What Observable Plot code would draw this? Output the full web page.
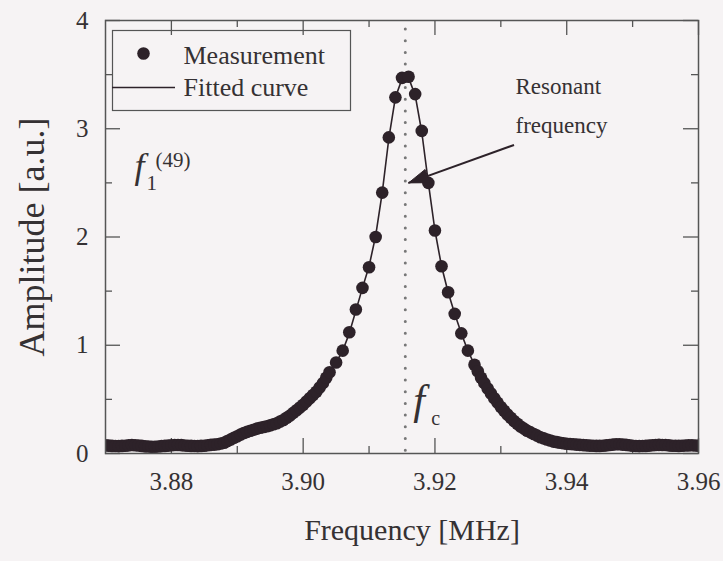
<!DOCTYPE html>
<html>
<head>
<meta charset="utf-8">
<script src="https://cdn.jsdelivr.net/npm/d3@7"></script>
<script src="https://cdn.jsdelivr.net/npm/@observablehq/plot@0.6"></script>
<style>
  html, body { margin: 0; padding: 0; background: #f6f3f4; }
  #chart svg { display: block; }
</style>
</head>
<body>
<div id="chart"></div>
<script>
// Measured amplitude [a.u.], swept in three segments:
// fine 0.5 kHz steps on the low side, 1 kHz steps across the peak, fine steps on the high side
const lowSideStart = 3.870, lowSideStep = 0.0005;
const lowSide = [
  0.075, 0.073, 0.070, 0.069, 0.068, 0.070, 0.072, 0.075, 0.078, 0.076,
  0.074, 0.070, 0.066, 0.064, 0.062, 0.063, 0.065, 0.068, 0.070, 0.073,
  0.076, 0.078, 0.079, 0.077, 0.074, 0.072, 0.070, 0.069, 0.068, 0.070,
  0.072, 0.076, 0.080, 0.082, 0.085, 0.092, 0.100, 0.115, 0.130, 0.145,
  0.160, 0.175, 0.190, 0.200, 0.210, 0.220, 0.230, 0.238, 0.245, 0.252,
  0.260, 0.270, 0.280, 0.295, 0.310, 0.330, 0.350, 0.375, 0.400, 0.425,
  0.450, 0.480, 0.510, 0.540, 0.570, 0.610, 0.650, 0.700, 0.750
];
const peakStart = 3.905, peakStep = 0.001;
const nearPeak = [
  0.84, 0.95, 1.12, 1.33, 1.53, 1.72, 2.00, 2.41, 2.92, 3.29,
  3.47, 3.48, 3.32, 2.98, 2.50, 2.06, 1.73, 1.49, 1.29, 1.11,
  0.95, 0.82
];
const highSideStart = 3.9265, highSideStep = 0.0005;
const highSide = [
  0.760, 0.700, 0.650, 0.600, 0.555, 0.510, 0.470, 0.430, 0.395, 0.360,
  0.330, 0.300, 0.275, 0.250, 0.230, 0.210, 0.195, 0.180, 0.165, 0.150,
  0.140, 0.130, 0.120, 0.110, 0.105, 0.100, 0.095, 0.090, 0.088, 0.085,
  0.082, 0.080, 0.077, 0.075, 0.073, 0.072, 0.070, 0.070, 0.072, 0.075,
  0.079, 0.082, 0.085, 0.085, 0.082, 0.080, 0.076, 0.072, 0.069, 0.068,
  0.069, 0.070, 0.073, 0.076, 0.079, 0.080, 0.079, 0.078, 0.075, 0.072,
  0.071, 0.070, 0.072, 0.074, 0.075, 0.076, 0.074, 0.072
];

// Fitted response [a.u.] on a 1 kHz grid from 3.870 MHz
const fitStart = 3.870, fitStep = 0.001;
const fitted = [
  0.070, 0.070, 0.070, 0.070, 0.070, 0.070, 0.070, 0.070, 0.070, 0.070,
  0.070, 0.070, 0.070, 0.070, 0.070, 0.072, 0.075, 0.080, 0.095, 0.120,
  0.150, 0.180, 0.205, 0.225, 0.240, 0.260, 0.280, 0.310, 0.350, 0.400,
  0.450, 0.510, 0.570, 0.650, 0.750, 0.840, 0.950, 1.110, 1.320, 1.530,
  1.730, 2.010, 2.410, 2.910, 3.290, 3.460, 3.470, 3.310, 2.970, 2.500,
  2.060, 1.730, 1.490, 1.290, 1.110, 0.950, 0.820, 0.700, 0.600, 0.510,
  0.430, 0.360, 0.300, 0.250, 0.210, 0.180, 0.150, 0.130, 0.110, 0.100,
  0.090, 0.085, 0.080, 0.078, 0.076, 0.075, 0.075, 0.075, 0.075, 0.075,
  0.075, 0.075, 0.075, 0.075, 0.075, 0.075, 0.075, 0.075, 0.075, 0.075,
  0.075
];

// Axis ranges and ticks
const xDomain = [3.870, 3.960];
const yDomain = [0, 4];
const xMajorTicks = [3.88, 3.90, 3.92, 3.94, 3.96];
const xMinorTicks = [3.89, 3.91, 3.93, 3.95];
const yMajorTicks = [0, 1, 2, 3, 4];
const yMinorTicks = [0.5, 1.5, 2.5, 3.5];

// Resonance marker and its annotation arrow (data units)
const resonantFreq = 3.9155;
const arrowFrom = {x: 3.932, y: 2.85};
const arrowTo = {x: 3.916, y: 2.5};

const segment = (start, step, values) =>
  values.map((a, i) => ({f: +(start + i * step).toFixed(4), a}));
const measurement = [
  ...segment(lowSideStart, lowSideStep, lowSide),
  ...segment(peakStart, peakStep, nearPeak),
  ...segment(highSideStart, highSideStep, highSide)
];
const fitCurve = segment(fitStart, fitStep, fitted);

// Layout
const W = 723, H = 561;
const mL = 105, mR = 25, mT = 20, mB = 108;
const ink = "#2d2229";
const axisInk = "#555";
const textInk = "#353133";
const serif = "'Liberation Serif', 'Times New Roman', serif";
const majorLen = 15, minorLen = 7;

// Filled arrowhead, built from the arrow end points
const kx = (W - mL - mR) / (xDomain[1] - xDomain[0]);
const ky = (H - mT - mB) / (yDomain[1] - yDomain[0]);
const vx = (arrowFrom.x - arrowTo.x) * kx, vy = -(arrowFrom.y - arrowTo.y) * ky;
const vl = Math.hypot(vx, vy), ux = vx / vl, uy = vy / vl;
const headLen = 20, headHalf = 7;
const toData = (px, py) => ({x: arrowTo.x + px / kx, y: arrowTo.y - py / ky});
const arrowHead = [
  toData(0, 0),
  toData(headLen * ux - headHalf * uy, headLen * uy + headHalf * ux),
  toData(headLen * ux + headHalf * uy, headLen * uy - headHalf * ux),
  toData(0, 0)
];

const ticksX = (values, len, side) =>
  Plot.ruleX(values, side === "bottom"
    ? {y1: yDomain[0], y2: yDomain[0], insetBottom: len, stroke: axisInk, strokeWidth: 1.3}
    : {y1: yDomain[1], y2: yDomain[1], insetTop: len, stroke: axisInk, strokeWidth: 1.3});
const ticksY = (values, len, side) =>
  Plot.ruleY(values, side === "left"
    ? {x1: xDomain[0], x2: xDomain[0], insetLeft: len, stroke: axisInk, strokeWidth: 1.3}
    : {x1: xDomain[1], x2: xDomain[1], insetRight: len, stroke: axisInk, strokeWidth: 1.3});

// free text placed relative to the top-left corner of the frame
const label = (s, dx, dy, opts = {}) =>
  Plot.text([s], {x: null, y: null, frameAnchor: "top-left", dx, dy,
    textAnchor: "start", lineAnchor: "middle", fill: textInk, ...opts});

const chart = Plot.plot({
  width: W,
  height: H,
  marginLeft: mL,
  marginRight: mR,
  marginTop: mT,
  marginBottom: mB,
  style: {background: "#f6f3f4", fontFamily: serif, color: textInk},
  x: {domain: xDomain, axis: null},
  y: {domain: yDomain, axis: null},
  marks: [
    // inward ticks on all four sides
    ticksX(xMajorTicks, majorLen, "bottom"),
    ticksX(xMinorTicks, minorLen, "bottom"),
    ticksX(xMajorTicks, majorLen, "top"),
    ticksX(xMinorTicks, minorLen, "top"),
    ticksY(yMajorTicks, majorLen, "left"),
    ticksY(yMinorTicks, minorLen, "left"),
    ticksY(yMajorTicks, majorLen, "right"),
    ticksY(yMinorTicks, minorLen, "right"),

    // tick labels
    Plot.text(xMajorTicks, {x: d => d, y: yDomain[0], dy: 28, text: d => d.toFixed(2),
      fontSize: 25, fill: textInk}),
    Plot.text(yMajorTicks, {x: xDomain[0], y: d => d, dx: -17, text: d => String(d),
      textAnchor: "end", fontSize: 25, fill: textInk}),

    // axis titles
    Plot.text(["Frequency [MHz]"], {x: null, y: null, frameAnchor: "bottom", dx: 10, dy: 77,
      textAnchor: "middle", lineAnchor: "middle", fontSize: 30, fill: textInk}),
    Plot.text(["Amplitude [a.u.]"], {x: null, y: null, frameAnchor: "left", dx: -73,
      textAnchor: "middle", lineAnchor: "middle", rotate: -90, fontSize: 36, fill: textInk}),

    // resonant frequency marker
    Plot.ruleX([resonantFreq], {stroke: "#777", strokeWidth: 3, strokeDasharray: "0,11.7",
      strokeLinecap: "round", insetTop: 9}),

    // fitted curve and measurement points
    Plot.line(fitCurve, {x: "f", y: "a", stroke: ink, strokeWidth: 1.6, clip: true}),
    Plot.dot(measurement, {x: "f", y: "a", r: 6.3, fill: ink, stroke: "none", clip: true}),

    // annotation arrow
    Plot.link([{...arrowFrom, x2: arrowTo.x, y2: arrowTo.y}],
      {x1: "x", y1: "y", x2: "x2", y2: "y2", stroke: ink, strokeWidth: 2}),
    Plot.line(arrowHead, {x: "x", y: "y", fill: ink, stroke: ink, strokeWidth: 1}),
    label("Resonant", 410, 66, {fontSize: 23}),
    label("frequency", 410, 105, {fontSize: 23}),

    // mode label f1^(49)
    label("f", 29, 146, {fontSize: 36, fontStyle: "italic"}),
    label("1", 41, 163, {fontSize: 21}),
    label("(49)", 50, 140, {fontSize: 21}),

    // fc label next to the marker
    Plot.text(["f"], {x: () => resonantFreq, y: () => yDomain[0], dx: 8, dy: -53,
      textAnchor: "start", fontSize: 42, fontStyle: "italic", fill: textInk}),
    Plot.text(["c"], {x: () => resonantFreq, y: () => yDomain[0], dx: 26, dy: -35,
      textAnchor: "start", fontSize: 20, fill: textInk}),

    // legend
    Plot.frame({insetLeft: 7, insetTop: 10, insetRight: 348, insetBottom: 343,
      stroke: axisInk, strokeWidth: 1.2}),
    Plot.dot([0], {x: null, y: null, frameAnchor: "top-left", dx: 38, dy: 33, r: 6.3,
      fill: ink, stroke: "none"}),
    label("Measurement", 78, 35, {fontSize: 26}),
    Plot.ruleY([0], {y: null, insetLeft: 7, insetRight: 523, dy: -149.5,
      stroke: ink, strokeWidth: 1.6}),
    label("Fitted curve", 78, 67, {fontSize: 26}),

    // plot frame
    Plot.frame({stroke: axisInk, strokeWidth: 1.5})
  ]
});

document.getElementById("chart").append(chart);
</script>
</body>
</html>
